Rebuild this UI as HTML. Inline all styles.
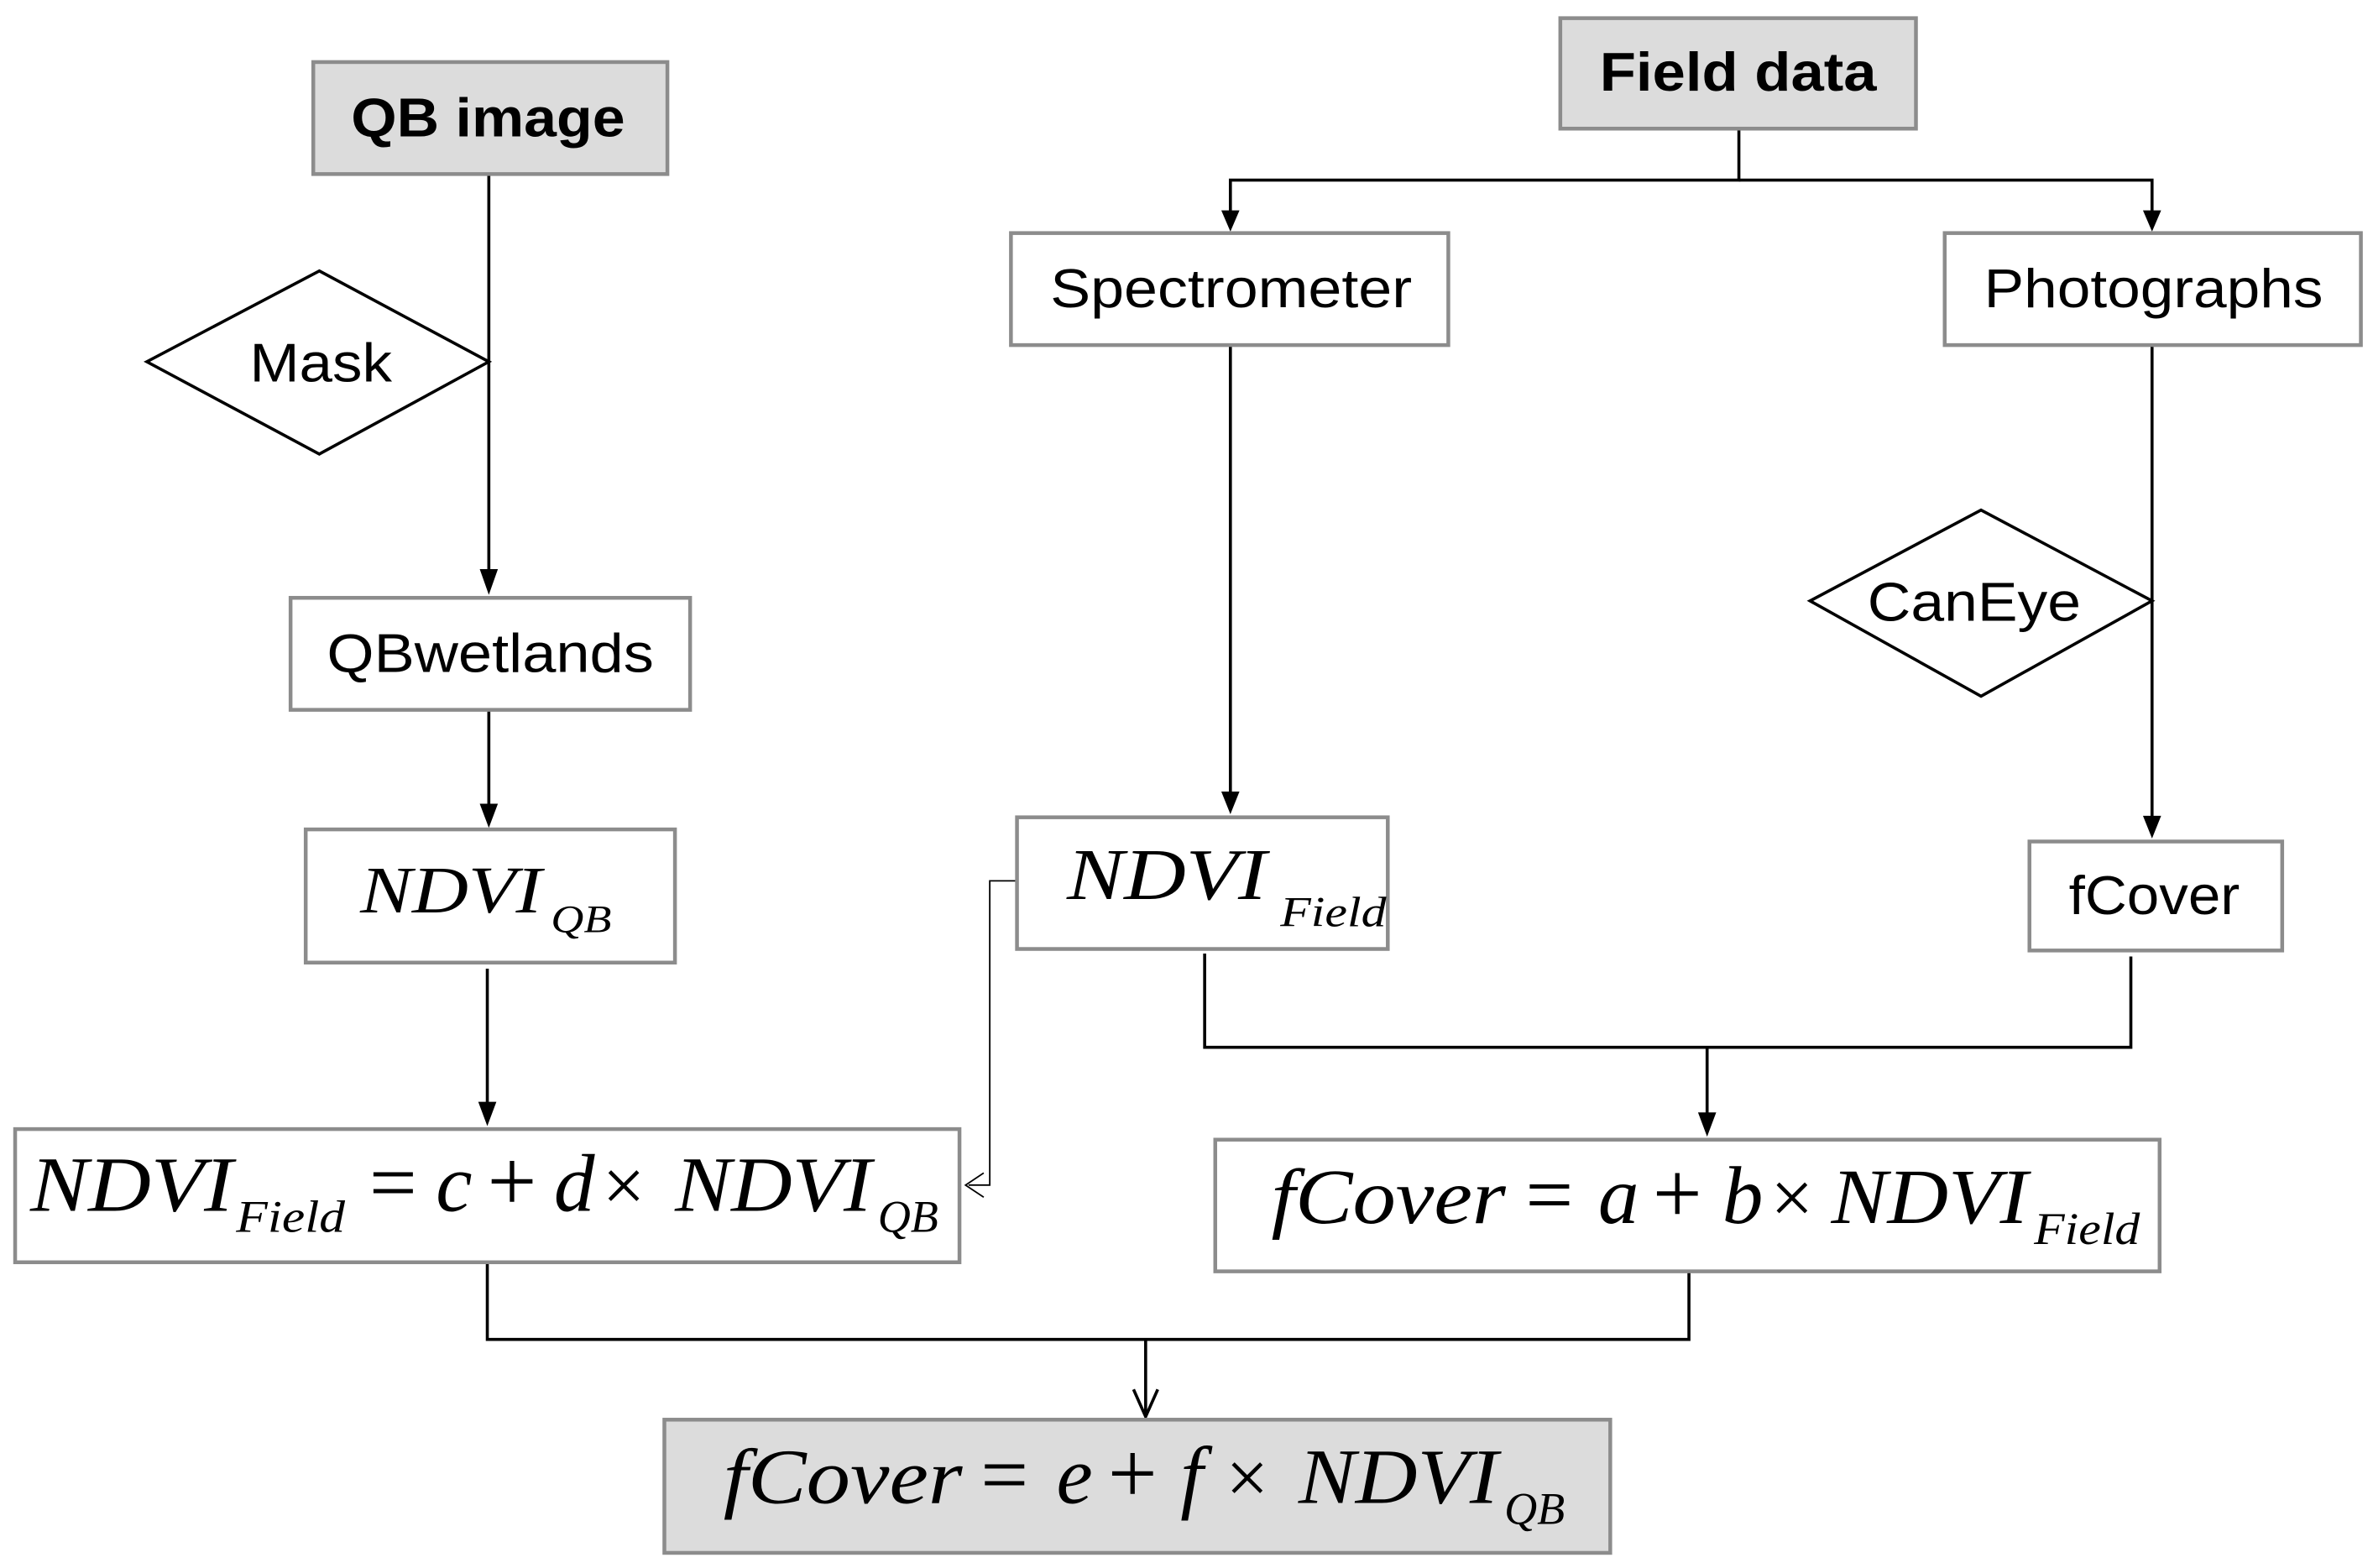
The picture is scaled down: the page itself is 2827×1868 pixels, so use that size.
<!DOCTYPE html>
<html><head><meta charset="utf-8"><style>
html,body{margin:0;padding:0;background:#fff;}
svg{display:block;}
.sans{font-family:"Liberation Sans",sans-serif;fill:#000;}
.ser{font-family:"Liberation Serif",serif;font-style:italic;fill:#000;}
.up{font-family:"Liberation Serif",serif;font-style:normal;fill:#000;}
</style></head><body>
<svg width="2827" height="1868" viewBox="0 0 1568 1036" preserveAspectRatio="none" xmlns="http://www.w3.org/2000/svg">
<g fill="none" stroke="#000" stroke-width="2">
<line x1="323" y1="115" x2="323" y2="378"/>
<line x1="323" y1="469" x2="323" y2="533"/>
<line x1="322" y1="640" x2="322" y2="730"/>
<polyline points="322,834 322,885 1116,885 1116,840"/>
<line x1="757" y1="885" x2="757" y2="934"/>
<polyline points="1149,85 1149,119 813,119 813,141"/>
<polyline points="1149,119 1422,119 1422,141"/>
<line x1="813" y1="228" x2="813" y2="525"/>
<line x1="1422" y1="228" x2="1422" y2="541"/>
<polyline points="796,630 796,692 1408,692 1408,632"/>
<line x1="1128" y1="692" x2="1128" y2="738"/>
</g>
<polyline points="672,582 654,582 654,783 640,783" fill="none" stroke="#000" stroke-width="1"/>
<polyline points="650,775 638,783 650,791" fill="none" stroke="#000" stroke-width="1"/>
<g fill="#000">
<polygon points="317,376 329,376 323,393"/>
<polygon points="317,531 329,531 323,547"/>
<polygon points="316,728 328,728 322,744"/>
<polygon points="807,139 819,139 813,153"/>
<polygon points="1416,139 1428,139 1422,153"/>
<polygon points="807,523 819,523 813,538"/>
<polygon points="1416,539 1428,539 1422,554"/>
<polygon points="1122,735 1134,735 1128,751"/>
</g>
<polyline points="749,918 757,936 765,918" fill="none" stroke="#000" stroke-width="2"/>
<g stroke="#8c8c8c" stroke-width="2.5">
<rect x="207" y="41" width="234" height="74" fill="#dcdcdc"/>
<rect x="1031" y="12" width="235" height="73" fill="#dcdcdc"/>
<rect x="192" y="395" width="264" height="74" fill="#fff"/>
<rect x="202" y="548" width="244" height="88" fill="#fff"/>
<rect x="10" y="746" width="624" height="88" fill="#fff"/>
<rect x="439" y="938" width="625" height="88" fill="#dcdcdc"/>
<rect x="668" y="154" width="289" height="74" fill="#fff"/>
<rect x="1285" y="154" width="275" height="74" fill="#fff"/>
<rect x="672" y="540" width="245" height="87" fill="#fff"/>
<rect x="1341" y="556" width="167" height="72" fill="#fff"/>
<rect x="803" y="753" width="624" height="87" fill="#fff"/>
</g>
<g fill="#fff" stroke="#000" stroke-width="2">
<polygon points="97,239 211,179 323,239 211,300"/>
<polygon points="1196,397 1309,337 1422,397 1309,460"/>
</g>
<text class="sans" x="232" y="90" font-size="36" font-weight="bold" textLength="181" lengthAdjust="spacingAndGlyphs">QB image</text>
<text class="sans" x="1057" y="60" font-size="36" font-weight="bold" textLength="183" lengthAdjust="spacingAndGlyphs">Field data</text>
<text class="sans" x="165" y="252" font-size="36" textLength="94" lengthAdjust="spacingAndGlyphs">Mask</text>
<text class="sans" x="1234" y="410" font-size="36" textLength="141" lengthAdjust="spacingAndGlyphs">CanEye</text>
<text class="sans" x="216" y="444" font-size="36" textLength="216" lengthAdjust="spacingAndGlyphs">QBwetlands</text>
<text class="sans" x="694" y="203" font-size="36" textLength="239" lengthAdjust="spacingAndGlyphs">Spectrometer</text>
<text class="sans" x="1311" y="203" font-size="36" textLength="224" lengthAdjust="spacingAndGlyphs">Photographs</text>
<text class="sans" x="1367" y="604" font-size="36" textLength="113" lengthAdjust="spacingAndGlyphs">fCover</text>

<text class="ser" x="238" y="603" font-size="44" textLength="120" lengthAdjust="spacingAndGlyphs">NDVI</text>
<text class="ser" x="364" y="616" font-size="26" textLength="40" lengthAdjust="spacingAndGlyphs">QB</text>

<text class="ser" x="705" y="594" font-size="48" textLength="132" lengthAdjust="spacingAndGlyphs">NDVI</text>
<text class="ser" x="846" y="612" font-size="28" textLength="70" lengthAdjust="spacingAndGlyphs">Field</text>

<text class="ser" x="20" y="800" font-size="52" textLength="134" lengthAdjust="spacingAndGlyphs">NDVI</text>
<text class="ser" x="156" y="814" font-size="30" textLength="72" lengthAdjust="spacingAndGlyphs">Field</text>
<text class="up" x="244" y="800" font-size="56">=</text>
<text class="ser" x="288" y="800" font-size="54">c</text>
<text class="up" x="322" y="800" font-size="58">+</text>
<text class="ser" x="366" y="800" font-size="54">d</text>
<text class="up" x="398" y="800" font-size="50">×</text>
<text class="ser" x="446" y="800" font-size="52" textLength="130" lengthAdjust="spacingAndGlyphs">NDVI</text>
<text class="ser" x="580" y="814" font-size="30" textLength="40" lengthAdjust="spacingAndGlyphs">QB</text>

<text class="ser" x="840" y="808" font-size="52" textLength="155" lengthAdjust="spacingAndGlyphs">fCover</text>
<text class="up" x="1008" y="808" font-size="56">=</text>
<text class="ser" x="1056" y="808" font-size="54">a</text>
<text class="up" x="1092" y="808" font-size="58">+</text>
<text class="ser" x="1138" y="808" font-size="54">b</text>
<text class="up" x="1170" y="808" font-size="50">×</text>
<text class="ser" x="1210" y="808" font-size="52" textLength="130" lengthAdjust="spacingAndGlyphs">NDVI</text>
<text class="ser" x="1344" y="822" font-size="30" textLength="70" lengthAdjust="spacingAndGlyphs">Field</text>

<text class="ser" x="478" y="993" font-size="52" textLength="158" lengthAdjust="spacingAndGlyphs">fCover</text>
<text class="up" x="648" y="993" font-size="56">=</text>
<text class="ser" x="698" y="993" font-size="54">e</text>
<text class="up" x="732" y="993" font-size="58">+</text>
<text class="ser" x="780" y="993" font-size="54">f</text>
<text class="up" x="810" y="993" font-size="50">×</text>
<text class="ser" x="858" y="993" font-size="52" textLength="132" lengthAdjust="spacingAndGlyphs">NDVI</text>
<text class="ser" x="994" y="1007" font-size="30" textLength="40" lengthAdjust="spacingAndGlyphs">QB</text>
</svg>
</body></html>
